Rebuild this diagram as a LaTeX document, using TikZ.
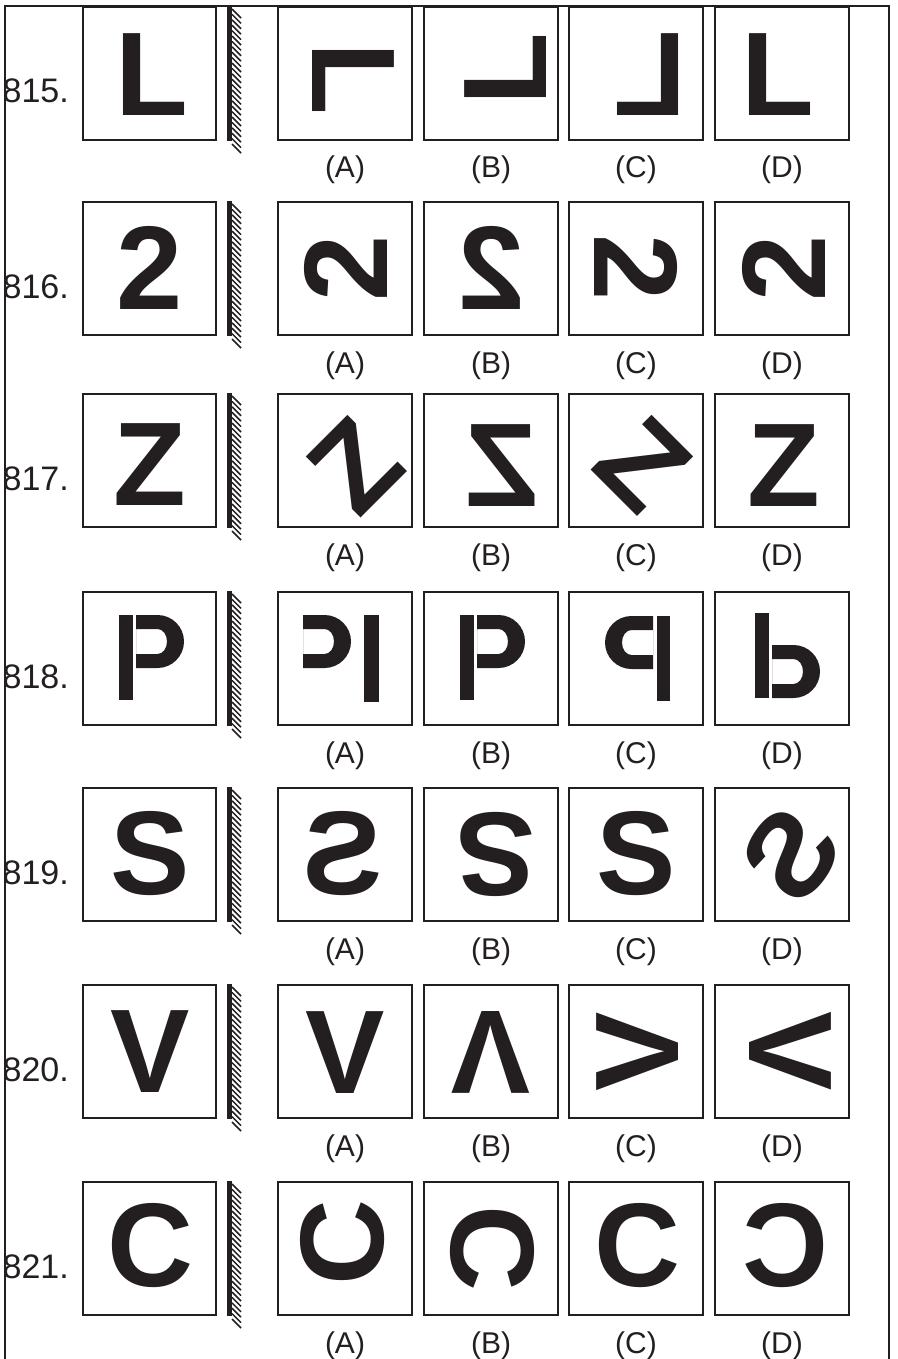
\documentclass[tikz,border=0pt]{standalone}
\usepackage{fontspec}
\setmainfont{Liberation Sans}
\definecolor{ink}{RGB}{35,31,32}
\tikzset{
  frame/.style={draw=ink, line width=2pt},
  hatch/.style={draw=ink, line width=1.5pt},
  glyph/.style={inner sep=0pt, outer sep=0pt, text=ink, font=\fontsize{119}{119}\selectfont\bfseries},
  lab/.style={inner sep=0pt, text=ink, font=\fontsize{30}{30}\selectfont, anchor=base},
  num/.style={inner sep=0pt, text=ink, font=\fontsize{34}{34}\selectfont, anchor=base east},
}
% P bowl in local coords: flat side x=0, round side x=48, y 0..53
\newcommand{\pbowl}{%
  \fill[ink, even odd rule] (0,0) -- (21.5,0) arc[start angle=-90, end angle=90, radius=26.5] -- (0,53) -- cycle
    (0,14) -- (21.5,14) arc[start angle=-90, end angle=90, x radius=9.5, y radius=12.5] -- (0,39) -- cycle;}
\begin{document}
\begin{tikzpicture}[x=1pt, y=-1pt]
\useasboundingbox (0,0) rectangle (897,1359);
\fill[white] (0,0) rectangle (897,1359);
\draw[frame] (5,1359) -- (5,6) -- (889,6) -- (889,1359);
\foreach \T/\n in {7/815,202/816,394/817,592/818,788/819,985/820,1182/821} {
  \draw[frame] (83,\T) rectangle (216,\T+133);
  \fill[ink] (227,\T-1) rectangle (232,\T+134);
  \foreach \k in {0,...,25} \draw[hatch] (232,\T+2+\k*5.4) -- (241,\T+11+\k*5.4);
  \foreach \x/\l in {278/A,424/B,569/C,715/D} {
    \draw[frame] (\x,\T) rectangle (\x+134,\T+133);
    \node[lab] (l\n\l) at (\x+67,\T+171) {(\l)};
  }
  \node[num] (n\n) at (69,\T+96) {\n.};
}
% 815 L
\node[glyph] (q815) at (152,74.5) {L};
\node[glyph, rotate=-90] (a815) at (353,78.5) {L};
\node[glyph, rotate=90] (b815) at (506,69) {L};
\node[glyph, xscale=-1] (c815) at (650.5,74.5) {L};
\node[glyph] (d815) at (778,74.5) {L};
% 816 2
\node[glyph] (q816) at (150,268) {2};
\node[glyph, rotate=90] (a816) at (345.5,268) {2};
\node[glyph, xscale=-1] (b816) at (491,268) {2};
\node[glyph, rotate=-90] (c816) at (636,268) {2};
\node[glyph, rotate=90] (d816) at (784,268) {2};
% 817 Z
\node[glyph] (q817) at (150,465) {Z};
\node[glyph, rotate=45] (a817) at (355.5,465.5) {Z};
\node[glyph, xscale=-1] (b817) at (502.5,465.5) {Z};
\node[glyph, rotate=-45] (c817) at (643.5,464.5) {Z};
\node[glyph] (d817) at (783.5,465.5) {Z};
% 818 P
\fill[ink] (119,615) rectangle (133,700);
\begin{scope}[shift={(136,615)}] \pbowl \end{scope}
\begin{scope}[shift={(303,615)}] \pbowl \end{scope}
\fill[ink] (364,615) rectangle (379,702);
\fill[ink] (460,615) rectangle (474,700);
\begin{scope}[shift={(477,615)}] \pbowl \end{scope}
\begin{scope}[shift={(653,616)}, xscale=-1] \pbowl \end{scope}
\fill[ink] (657,616) rectangle (670,701);
\fill[ink] (755,613) rectangle (769,698);
\begin{scope}[shift={(772,645)}] \pbowl \end{scope}
% 819 S
\node[glyph] (q819) at (150,854) {S};
\node[glyph, xscale=-1] (a819) at (343,854) {S};
\node[glyph, rotate=180] (b819) at (496,854) {S};
\node[glyph] (c819) at (636,854) {S};
\node[glyph, rotate=55, xscale=-1] (d819) at (791.5,855) {S};
% 820 V
\node[glyph] (q820) at (150,1052) {V};
\node[glyph] (a820) at (345.5,1053) {V};
\node[glyph, rotate=180] (b820) at (491,1052) {V};
\node[glyph, rotate=90] (c820) at (638,1052) {V};
\node[glyph, rotate=-90] (d820) at (790,1051) {V};
% 821 C
\node[glyph] (q821) at (150,1246) {C};
\node[glyph, rotate=90] (a821) at (343,1242.5) {C};
\node[glyph, rotate=-90] (b821) at (492.5,1248.5) {C};
\node[glyph] (c821) at (637,1246) {C};
\node[glyph, xscale=-1] (d821) at (785.5,1246) {C};
\end{tikzpicture}
\end{document}
